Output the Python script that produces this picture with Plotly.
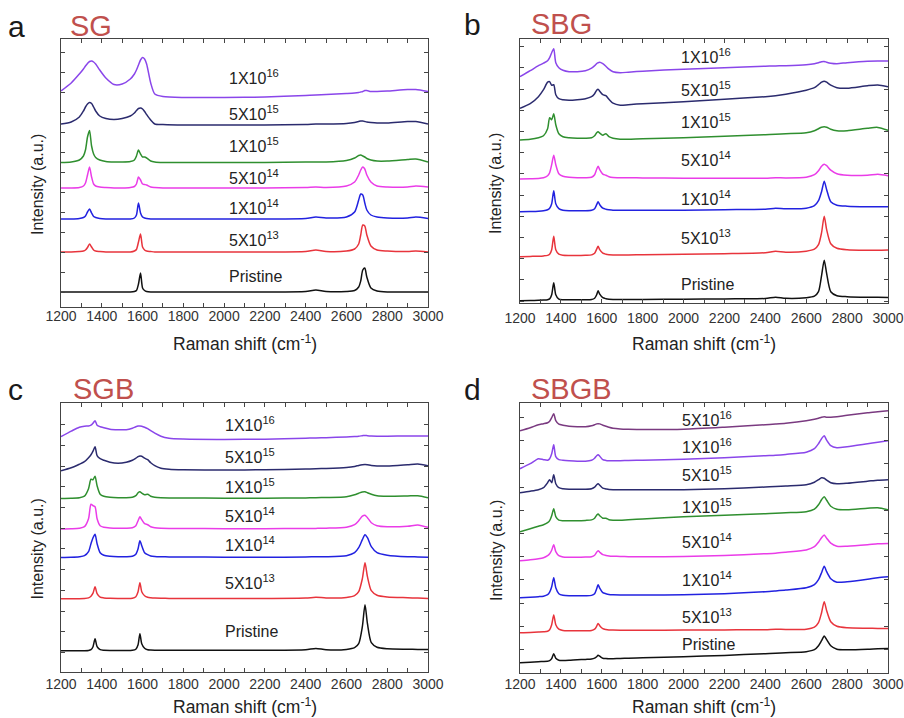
import plotly.graph_objects as go

W, H = 904, 718

# ---------------- data (intensity, arbitrary units) ----------------
SERIES = ["Pristine", "5X10<sup>13</sup>", "1X10<sup>14</sup>", "5X10<sup>14</sup>",
          "1X10<sup>15</sup>", "5X10<sup>15</sup>", "1X10<sup>16</sup>", "5X10<sup>16</sup>"]

XA = [1200, 1250, 1290, 1310, 1320, 1330, 1340, 1350, 1360, 1370,
      1390, 1420, 1460, 1500, 1540, 1560, 1570, 1580, 1590, 1600,
      1610, 1620, 1640, 1660, 1700, 1800, 2000, 2200, 2400, 2450,
      2500, 2600, 2640, 2660, 2670, 2680, 2690, 2700, 2720, 2750,
      2800, 2900, 2940, 3000]
A_PRISTINE = [15, 15, 15, 15, 15, 15, 15, 15, 15, 15,
              15, 15, 15, 15, 15, 15.5, 16.5, 23, 34, 19,
              16.5, 15.5, 15, 15, 15, 15, 15, 15, 15.5, 17,
              15.5, 15.5, 16.5, 20, 26, 37, 39, 30, 19, 16,
              15, 15, 15, 15]
A_5E13 = [55, 55, 55.5, 56, 57, 59.5, 63, 60, 57, 56,
          55.5, 55, 55, 55, 55, 56, 57.5, 65, 73, 60,
          57, 56, 55.5, 55, 55, 55, 55, 55, 55.5, 57,
          55.5, 56, 58, 63, 72, 82, 81, 72, 61, 57,
          56, 55.5, 56, 55]
A_1E14 = [88, 88, 88.5, 89.5, 91, 95, 98, 94, 90.5, 89.5,
          88.5, 88, 88, 88, 88, 89, 92, 104, 94, 90,
          89, 88.5, 88, 88, 88, 88, 88, 88, 88.5, 90,
          89, 90, 95, 107, 113, 112, 104, 97, 92, 90,
          89, 89, 90, 88.5]
A_5E14 = [119, 119, 119.5, 121, 124, 132, 140, 130, 123, 121,
          120, 119.5, 119, 119, 119.5, 120.5, 123, 130, 127, 123,
          122.5, 122, 120, 119.5, 119, 119, 119, 119, 119.5, 120,
          119.5, 121, 125, 132, 137, 140, 138, 132, 125, 121,
          120, 120, 121, 120]
A_1E15 = [144.5, 145, 147, 151, 157, 170, 176.5, 161, 153, 149.5,
          147, 145.5, 145, 145, 145.5, 147, 151, 157, 153, 150,
          150, 149, 146, 145, 144.5, 144.5, 144.5, 144.5, 145, 145,
          145, 146.5, 149, 151.5, 152, 151, 150, 148.5, 147, 146,
          146, 147.5, 148, 145]
A_5E15 = [183, 185, 190, 196, 200, 203, 204.5, 203.5, 200, 196,
          191, 188.5, 187.5, 188.5, 191, 194, 196.5, 198.5, 199, 198,
          195.5, 192.5, 187, 183, 182.5, 182, 182, 182, 182.5, 183,
          183, 183.5, 184.5, 185.5, 186, 186, 185.5, 185, 184.5, 184,
          184, 185.5, 185.5, 183]
A_1E16 = [216, 224, 233, 238, 241, 243.5, 245.5, 246, 245, 243,
          237, 229, 222.5, 223, 228, 233, 237, 242, 247, 249.5,
          248, 243, 224, 213, 210.5, 209.5, 209.5, 210, 211.5, 212,
          212.5, 213.5, 214, 214.5, 215, 215.5, 216.5, 216.5, 215.5, 215.5,
          216, 217.5, 217.5, 215.5]

XB = [1200, 1250, 1290, 1315, 1335, 1345, 1355, 1365, 1375, 1390,
      1410, 1440, 1480, 1520, 1550, 1565, 1575, 1582, 1590, 1605,
      1620, 1635, 1655, 1690, 1730, 1800, 2000, 2200, 2400, 2450,
      2500, 2600, 2640, 2660, 2675, 2688, 2700, 2720, 2750, 2800,
      2900, 2950, 3000]
B_PRISTINE = [2, 2.2, 2.4, 2.6, 3, 3.8, 8, 20, 8, 3.5,
              3, 3, 3, 3, 3.2, 4.5, 8, 12, 8.5, 5,
              4, 3.5, 3.3, 3.2, 3.2, 3.3, 3.5, 3.8, 4.2, 5.5,
              4.4, 5, 6.5, 11, 27, 42.5, 29, 11, 7, 6,
              5.5, 5.5, 5.3]
B_5E13 = [46, 46.3, 46.5, 46.8, 47.3, 48.5, 53, 66.5, 53, 48.5,
          47.5, 47.3, 47.3, 47.5, 47.8, 49.5, 53.5, 56.5, 53, 49.5,
          48.5, 48, 47.8, 47.8, 47.8, 48, 48.5, 49, 50, 51.5,
          50.5, 51.5, 53.5, 58, 70, 86.5, 73, 59, 54.5, 53,
          52.5, 52.5, 52.7]
B_1E14 = [91, 91.2, 91.5, 92, 93, 94.5, 99, 112, 99, 94,
          92.5, 92, 92, 92, 92.5, 94, 98, 101, 98, 94.5,
          93.5, 93, 92.5, 92.5, 92.5, 92.5, 92.5, 93, 93.5, 94.5,
          94, 94.5, 97, 102, 111, 121.5, 113, 101, 97.5, 96.5,
          96, 96, 96]
B_5E14 = [123.7, 124, 124.3, 125, 127, 130, 138, 147.5, 138, 129,
          126.5, 125.5, 125, 125, 125.5, 128, 133.5, 136.5, 133, 128.5,
          127.5, 126, 125.2, 125, 125, 124.8, 124.5, 124.5, 124.5, 125,
          124.8, 125.5, 128, 132, 136.5, 138.5, 137, 132.5, 129, 127.5,
          127.5, 128.5, 127]
B_1E15 = [162.7, 163.5, 165, 167, 174, 185, 183, 189, 178, 169,
          166, 165, 164.5, 164.5, 165, 167, 170, 171, 169.5, 167.5,
          169, 166, 164.5, 163.5, 163.5, 164, 165, 166.5, 168, 168.5,
          169, 170, 172, 174, 175.5, 176, 175.5, 173.5, 172, 172,
          174.5, 175.3, 172.3]
B_5E15 = [194.4, 199, 206, 213, 220.5, 221, 217.5, 218, 208, 204,
          203, 202.5, 203, 204, 206, 209, 212.5, 213.5, 211.5, 208,
          207, 203.5, 199.5, 197.5, 198, 199, 201, 203.5, 206, 207,
          208.5, 212.5, 215, 218, 220.5, 221.5, 220.5, 217.5, 215, 214.5,
          217, 217.7, 216]
B_1E16 = [226, 232, 237, 239.5, 242, 245, 250, 254, 240, 235,
          232.5, 231, 231, 232, 234.5, 237, 239, 240, 240.5, 239,
          236.5, 233.5, 231, 230, 230.5, 231.5, 233.5, 235, 236.5, 236.8,
          237, 238, 239, 240, 241, 241.3, 240.5, 239.5, 239, 240,
          241.5, 241.8, 241.7]

XC = [1200, 1250, 1290, 1315, 1335, 1347, 1357, 1367, 1377, 1392,
      1410, 1440, 1480, 1520, 1550, 1567, 1578, 1587, 1596, 1610,
      1625, 1640, 1660, 1690, 1730, 1800, 2000, 2200, 2400, 2450,
      2500, 2600, 2640, 2660, 2678, 2691, 2703, 2722, 2750, 2800,
      2900, 2950, 3000]
C_PRISTINE = [21, 21, 21, 21, 21.2, 22, 25, 33, 25, 22,
              21.5, 21.3, 21.2, 21.2, 21.4, 22.5, 27, 38, 28, 23.5,
              22, 21.7, 21.5, 21.4, 21.4, 21.4, 21.5, 21.5, 22, 23.3,
              22, 22.3, 24, 28, 45, 67, 48, 29, 24.5, 23,
              22.5, 22.3, 22.3]
C_5E13 = [73, 73, 73, 73.2, 73.8, 75.5, 78.5, 85, 78, 74.5,
          73.8, 73.4, 73.3, 73.3, 73.5, 75, 80, 89, 80, 76,
          74.5, 74, 73.6, 73.4, 73.3, 73.3, 73.3, 73.3, 73.6, 74.5,
          73.8, 74.2, 76, 80, 93, 109, 95, 81, 76.5, 74.8,
          74, 73.6, 73.3]
C_1E14 = [114.3, 114.5, 115, 116, 120, 128, 134, 137.5, 128, 119,
          116.5, 115.5, 115, 115, 115.5, 117.5, 123, 131, 126, 119,
          117, 115.8, 115.3, 115, 114.8, 114.7, 114.5, 114.5, 114.7, 115,
          115, 116, 119, 124, 132, 137, 134, 125, 119, 116.5,
          115, 114.8, 114.5]
C_5E14 = [142.7, 143, 143.5, 145, 153, 167.5, 166, 165, 153, 146,
          144.5, 143.8, 143.5, 143.5, 144, 146, 151, 155, 152, 148,
          147, 145, 144, 143.5, 143.3, 143.2, 143, 143, 143.2, 143.3,
          143.5, 144.5, 147, 151, 155.5, 156.5, 154, 149, 146, 145,
          145.5, 146.7, 144.3]
C_1E15 = [173.3, 173.5, 174, 175.5, 183, 192.5, 192, 195.5, 186, 177.5,
          175.5, 174.5, 174, 174, 174.5, 176, 179, 180, 178.5, 177,
          177.5, 175.5, 174.5, 174, 173.8, 173.7, 173.5, 173.5, 173.8, 174,
          174.2, 175, 177, 178.5, 179.8, 180, 179, 177.5, 176, 175.5,
          175.8, 176, 174]
C_5E15 = [201, 204, 207.5, 210, 214, 217, 220.5, 225, 216, 213,
          211.5, 209.5, 208.5, 209.5, 211.5, 213.5, 215, 215.8, 215.5, 213.5,
          212, 209, 206, 203.5, 202.5, 202, 201.7, 202, 202.7, 203,
          203.3, 204.3, 205.3, 206.3, 207, 207.3, 207, 206.3, 205.8, 205.7,
          207, 207.7, 206]
C_1E16 = [235, 240.5, 244.5, 245.5, 245.7, 246.5, 248.5, 251, 246.5, 245,
          244, 242.5, 242, 242, 243.5, 245, 245.7, 245.8, 245.5, 244.5,
          243, 241, 238.5, 235.5, 233.5, 232.7, 232.3, 232.5, 233.5, 233.8,
          234, 234.8, 235.2, 235.5, 236, 236.3, 236, 235.7, 235.5, 235.5,
          235.8, 235.8, 235.7]

XD = [1200, 1250, 1290, 1315, 1335, 1345, 1355, 1365, 1375, 1390,
      1410, 1440, 1480, 1520, 1550, 1565, 1575, 1582, 1590, 1605,
      1620, 1635, 1655, 1690, 1730, 1800, 2000, 2200, 2400, 2450,
      2500, 2600, 2640, 2660, 2675, 2688, 2700, 2720, 2750, 2800,
      2900, 2950, 3000]
D_PRISTINE = [10, 10.5, 11, 11.2, 11.5, 12, 14, 19, 14.5, 12.5,
              12.3, 12.5, 13, 13.3, 13.6, 14.5, 16, 17.5, 16.5, 14.5,
              14.2, 14, 14, 14.2, 14.5, 15, 16, 17.3, 19, 19.5,
              20, 21, 23, 27, 32, 36.7, 33, 27, 23.5, 23,
              23.5, 24, 24.3]
D_5E13 = [40, 40.3, 40.7, 41, 41.5, 43, 48, 57.7, 48, 43.5,
          42.3, 42, 42, 42, 42.2, 43.5, 46.5, 49.3, 47, 44,
          43.2, 42.8, 42.6, 42.5, 42.5, 42.5, 42.6, 42.8, 43, 43.5,
          43.2, 43.5, 45.5, 50, 60, 71, 62, 51, 46.5, 45,
          44.5, 44.3, 44.3]
D_1E14 = [75, 75.5, 76, 76.5, 78, 80.5, 86, 95, 85, 79,
          77.5, 77, 77, 77, 77.3, 79, 84, 88, 84.5, 80,
          79, 78.3, 78, 77.8, 77.7, 77.7, 78, 79, 81, 81.8,
          82.7, 85, 88, 93, 100, 106.5, 101, 94, 90.5, 91,
          93.5, 95, 96]
D_5E14 = [112, 113, 114, 115, 117, 119, 122.5, 128, 121, 117,
          115.8, 115.5, 115.5, 115.7, 116, 117.5, 120.5, 122, 120.5, 118,
          117.3, 116.8, 116.5, 116.2, 116, 116, 116.2, 117.3, 119, 119.5,
          120.5, 122.7, 126, 130.5, 135, 137.7, 134.5, 129.5, 126.5, 126.5,
          128, 129, 129.3]
D_1E15 = [141, 144, 146.5, 148, 150, 152, 157, 164, 156, 152.5,
          152, 152, 152, 152.3, 152.8, 154.5, 157.5, 158.7, 157, 154.5,
          154.5, 153, 152.5, 152.5, 153, 153.7, 156, 157.5, 159, 159.5,
          160, 161, 163.5, 168, 173, 176, 172.5, 166.5, 163.5, 163,
          164.5, 165, 163]
D_5E15 = [180, 181.5, 183, 185, 190, 193, 190, 198, 189, 185,
          184, 183.5, 183.5, 183.5, 184, 185.5, 188, 189, 187.5, 184.5,
          183.8, 183.2, 183, 183, 183, 183, 183, 184, 185.7, 186.2,
          186.8, 188, 190.5, 193, 195, 194.5, 192.5, 190, 189, 189.5,
          191.5, 192.5, 193]
D_1E16 = [204, 209, 214, 213, 212.5, 214, 219, 228, 216, 213,
          212.5, 212, 211.5, 211.5, 212.5, 214.5, 217, 218, 216.5, 213,
          212.3, 212, 212, 212, 212.3, 212.5, 213.5, 215, 217, 217.5,
          218.3, 220.5, 224, 229, 234, 237, 232.5, 227, 225, 226,
          229, 230.5, 232]
D_5E16 = [242, 245, 248, 249, 250, 251.5, 255, 259, 252, 248.5,
          247.5, 246.5, 246, 246, 247, 248, 248.8, 249, 248.8, 247.5,
          246.5, 245.5, 244.5, 243.8, 243.5, 243.2, 243.5, 245.5, 248, 248.7,
          249.5, 252, 253.5, 254.5, 255.5, 256, 255.5, 255.5, 256, 257.5,
          260, 261, 262]

# ---------------- styling / layout ----------------
COLORS = ["#111111", "#e8343c", "#2222e0", "#ea3ce8", "#2f8f2f", "#2b2b6e", "#8a46ea", "#7a3a80"]

panels = [
    dict(letter="a", name="SG", x=XA,
         ys=[A_PRISTINE, A_5E13, A_1E14, A_5E14, A_1E15, A_5E15, A_1E16],
         box=(61, 39, 428, 307), yrange=268, tick0=15, dtick=19.92, standoff=-4,
         title_gap=36,
         label_x=2015, label_y=[31, 68, 99.5, 129.5, 161.5, 193.5, 230],
         letter_pos=(6, 27), name_pos=(68, 26)),
    dict(letter="b", name="SBG", x=XB,
         ys=[B_PRISTINE, B_5E13, B_1E14, B_5E14, B_1E15, B_5E15, B_1E16],
         box=(520, 39.3, 888, 302.7), yrange=263.4, tick0=1.7, dtick=21.2, standoff=2,
         title_gap=40,
         label_x=1980, label_y=[18.7, 66, 105.2, 143.7, 181.9, 213.7, 247],
         letter_pos=(462, 24), name_pos=(529, 24)),
    dict(letter="c", name="SGB", x=XC,
         ys=[C_PRISTINE, C_5E13, C_1E14, C_5E14, C_1E15, C_5E15, C_1E16],
         box=(61, 403.3, 428, 671.7), yrange=268.4, tick0=19.3, dtick=20.7, standoff=-1,
         title_gap=34,
         label_x=1995, label_y=[40, 89.5, 127.5, 157.2, 185.9, 216.2, 247.7],
         letter_pos=(6, 389), name_pos=(71, 389)),
    dict(letter="d", name="SBGB", x=XD,
         ys=[D_PRISTINE, D_5E13, D_1E14, D_5E14, D_1E15, D_5E15, D_1E16, D_5E16],
         box=(520, 403.3, 888, 672.7), yrange=269.4, tick0=23.3, dtick=23.2, standoff=-2,
         title_gap=33,
         label_x=1982, label_y=[28.5, 56.9, 93.5, 131.9, 166.4, 198.5, 226.9, 253.5],
         letter_pos=(462, 389), name_pos=(529, 389)),
]

FONT = "Arial, Liberation Sans, sans-serif"
fig = go.Figure()
annotations = []
layout = {}

for i, p in enumerate(panels, start=1):
    sfx = "" if i == 1 else str(i)
    xa, ya = "x" + sfx, "y" + sfx
    for k, yv in enumerate(p["ys"]):
        assert len(yv) == len(p["x"]), (p["name"], k, len(yv), len(p["x"]))
        fig.add_trace(go.Scatter(
            x=p["x"], y=yv, mode="lines", xaxis=xa, yaxis=ya,
            line=dict(color=COLORS[k], width=1.5, shape="spline", smoothing=0.7),
            showlegend=False, hoverinfo="skip"))
        annotations.append(dict(
            x=p["label_x"], y=p["label_y"][k], xref=xa, yref=ya,
            text=SERIES[k], showarrow=False, xanchor="left", yanchor="middle",
            font=dict(family=FONT, size=16, color="#222")))
    x0, y0, x1, y1 = p["box"]
    layout["xaxis" + sfx] = dict(
        domain=[x0 / W, x1 / W], anchor=ya, range=[1200, 3000], automargin=False,
        dtick=200, tick0=1200, ticks="inside", ticklen=4, tickwidth=1, tickcolor="#444",
        minor=dict(dtick=100, ticks="inside", ticklen=4, tickcolor="#444", showgrid=False),
        showline=True, linecolor="#444", linewidth=1, mirror="ticks",
        showgrid=False, zeroline=False, ticklabelstandoff=p["standoff"],
        tickfont=dict(family=FONT, size=14, color="#333"))
    layout["yaxis" + sfx] = dict(
        domain=[1 - y1 / H, 1 - y0 / H], anchor=xa, range=[0, p["yrange"]], automargin=False,
        tick0=p["tick0"], dtick=p["dtick"], ticks="inside", ticklen=4, tickcolor="#444",
        showticklabels=False, showline=True, linecolor="#444", linewidth=1, mirror="ticks",
        showgrid=False, zeroline=False)
    # axis titles
    annotations.append(dict(
        x=(x0 + x1) / 2 / W, y=1 - (y1 + p["title_gap"]) / H, xref="paper", yref="paper",
        text="Raman shift (cm<sup>-1</sup>)", showarrow=False,
        xanchor="center", yanchor="middle",
        font=dict(family=FONT, size=17.5, color="#222")))
    annotations.append(dict(
        x=(x0 - 24) / W, y=1 - ((y0 + y1) / 2 + 12) / H, xref="paper", yref="paper",
        text="Intensity (a.u.)", showarrow=False, textangle=-90,
        xanchor="center", yanchor="middle",
        font=dict(family=FONT, size=16, color="#222")))
    # panel letter and sample name
    lx, ly = p["letter_pos"]
    annotations.append(dict(
        x=lx / W, y=1 - ly / H, xref="paper", yref="paper", text=p["letter"],
        showarrow=False, xanchor="left", yanchor="middle",
        font=dict(family=FONT, size=30, color="#1a1a1a")))
    nx, ny = p["name_pos"]
    annotations.append(dict(
        x=nx / W, y=1 - ny / H, xref="paper", yref="paper", text=p["name"],
        showarrow=False, xanchor="left", yanchor="middle",
        font=dict(family=FONT, size=29, color="#c0504d")))

fig.update_layout(
    width=W, height=H, margin=dict(l=0, r=0, t=0, b=0, autoexpand=False),
    paper_bgcolor="white", plot_bgcolor="white",
    annotations=annotations, **layout)

fig.write_html("out.html", config={"displayModeBar": False},
               post_script="document.body.style.margin='0';document.body.style.overflow='hidden';")
